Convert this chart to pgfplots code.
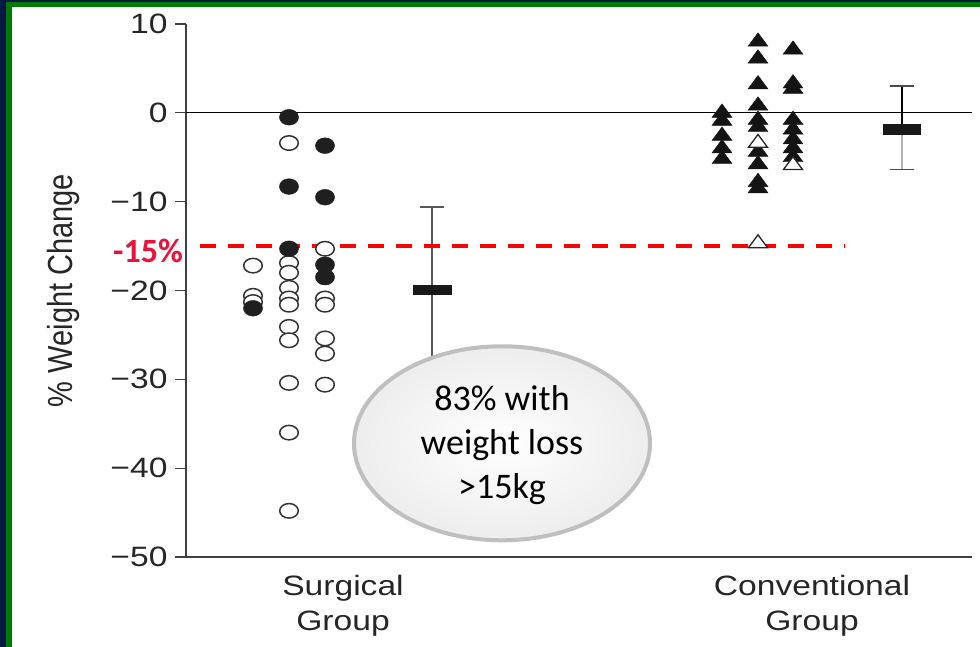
\documentclass[border=0pt]{standalone}
\usepackage{pgfplots}
\pgfplotsset{compat=1.18}
\usepackage{fontspec}
\setmainfont{Liberation Sans}
\newfontfamily\calibri{Carlito}
\usetikzlibrary{shapes.geometric,shadings}
\definecolor{navyb}{RGB}{5,25,65}
\definecolor{greenb}{RGB}{0,122,0}
\definecolor{pinkred}{RGB}{232,20,60}
\definecolor{ellgray}{RGB}{191,191,191}
\newcommand\sx[1]{\scalebox{1.2}[1]{#1}}

\begin{document}
\begin{tikzpicture}[x=1pt,y=1pt]
\useasboundingbox (0,0) rectangle (980,647);
\fill[white] (0,0) rectangle (980,647);
\fill[navyb] (0,0) rectangle (6,647);
\fill[navyb] (0,645) rectangle (980,647);
\fill[greenb] (6,0) rectangle (12,645);
\fill[greenb] (6,640) rectangle (980,645);
\begin{axis}[
  at={(186pt,90pt)}, anchor=south west,
  scale only axis, width=786pt, height=533pt,
  xmin=186, xmax=972, ymin=-50, ymax=10,
  axis lines=left, axis line style={-, black!75, line width=1.3pt},
  clip=false,
  ytick={-50,-40,-30,-20,-10,0,10},
  yticklabels={\sx{−50},\sx{−40},\sx{−30},\sx{−20},\sx{−10},\sx{0},\sx{10}},
  ytick align=outside,
  xtick align=inside,
  ytick style={black!75, line width=1.3pt},
  major tick length=11pt,
  xtick={343,812},
  xtick style={draw=none},
  xticklabels={{\sx{Surgical}\\\sx{Group}},{\sx{Conventional}\\\sx{Group}}},
  xticklabel style={align=center, font=\fontsize{28}{35}\selectfont, text=black!85, yshift=-15pt},
  yticklabel style={font=\fontsize{28}{32}\selectfont, text=black!85, xshift=-4pt},
  ylabel={\scalebox{1}[1.2]{\% Weight Change}},
  ylabel style={at={(axis description cs:-0.156,0.5)}, anchor=center, font=\fontsize{29}{32}\selectfont, text=black!85},
]
% zero line
\addplot[black, line width=1.2pt] coordinates {(186,0) (972,0)};

% surgical mean +- SD
\addplot[black!65, line width=1.5pt] coordinates {(432,-10.6) (432,-29.4)};
\addplot[black!65, line width=1.5pt] coordinates {(420,-10.6) (444,-10.6)};
\addplot[black!90, line width=10pt] coordinates {(413,-20) (452,-20)};

% conventional mean +- SD
\addplot[black, line width=1.5pt] coordinates {(902,3.0) (902,-1.9)};
\addplot[black!70, line width=1.5pt] coordinates {(890,3.0) (914,3.0)};
\addplot[black!30, line width=2pt] coordinates {(902,-1.9) (902,-6.4)};
\addplot[black!70, line width=1.5pt] coordinates {(890,-6.4) (914,-6.4)};
\addplot[black!90, line width=11pt] coordinates {(883,-1.9) (921,-1.9)};

% surgical open circles
\addplot[only marks, mark=*, mark size=9.3pt,
  mark options={fill=white, draw=black!80, line width=1.5pt, yscale=0.78}] coordinates {
  (253,-17.2) (253,-20.6) (253,-21.3)
  (289,-3.4) (289,-16.9) (289,-18.0) (289,-19.7) (289,-20.9) (289,-21.6)
  (289,-24.1) (289,-25.6) (289,-30.4) (289,-36.0) (289,-44.8)
  (325,-15.3) (325,-20.9) (325,-21.6) (325,-25.4) (325,-27.1) (325,-30.6)
};
% surgical filled circles
\addplot[only marks, mark=*, mark size=9.6pt,
  mark options={fill=black!88, draw=black!88, yscale=0.82}] coordinates {
  (253,-22.0)
  (289,-0.5) (289,-8.3) (289,-15.3)
  (325,-3.7) (325,-9.5) (325,-17.1) (325,-18.5)
};

% -15% threshold
\addplot[red, line width=4.5pt, dash pattern=on 16pt off 12pt] coordinates {(200,-15) (845,-15)};

% conventional filled triangles
\addplot[only marks, mark=triangle*, mark size=11.5pt,
  mark options={fill=black!92, draw=black!92, yscale=0.78}] coordinates {
  (722,0.0) (722,-0.9) (722,-2.6) (722,-4.0) (722,-5.2)
  (758,8.0) (758,6.1) (758,3.2) (758,0.8) (758,-0.8) (758,-1.6)
  (758,-4.4) (758,-5.8) (758,-7.8) (758,-8.5)
  (793,7.1) (793,3.3) (793,2.7) (793,-0.8) (793,-1.9) (793,-3.0) (793,-4.0) (793,-5.0)
};
% conventional open triangles
\addplot[only marks, mark=triangle*, mark size=11pt,
  mark options={fill=white, draw=black!85, line width=1.3pt, yscale=0.78}] coordinates {
  (758,-3.4) (758,-14.7) (793,-5.9)
};

% annotations
\node[ellipse, draw=ellgray, line width=4pt, inner color=white, outer color=black!7,
  minimum width=296pt, minimum height=194pt] at (axis cs:502,-37.2) {};
\node[align=center, font=\calibri\fontsize{36}{44}\selectfont] at (axis cs:502,-37.4)
  {83\% with\\weight loss\\>15kg};
\node[anchor=east, text=pinkred, font=\calibri\bfseries\fontsize{34}{40}\selectfont, inner sep=0pt]
  at (axis cs:183,-15.6) {-15\%};
\end{axis}
\end{tikzpicture}
\end{document}
